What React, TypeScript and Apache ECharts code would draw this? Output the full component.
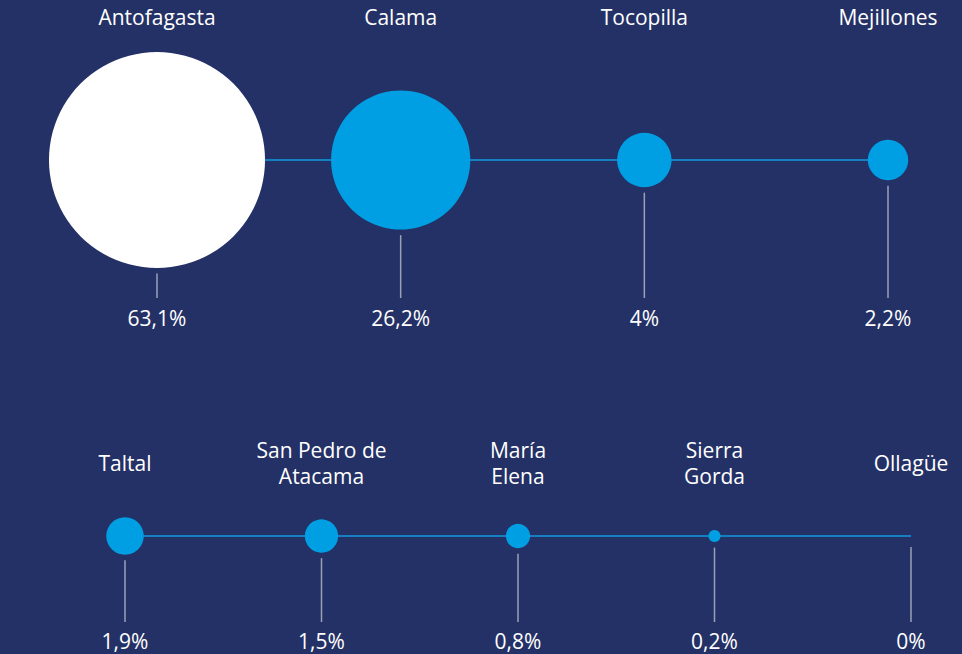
import React, { useEffect, useRef } from "react";
import * as echarts from "echarts";

// Row 1 data
const row1Names = ["Antofagasta", "Calama", "Tocopilla", "Mejillones"];
const row1Values = [63.1, 26.2, 4, 2.2];
// Row 2 data
const row2Names = ["Taltal", "San Pedro de\nAtacama", "María\nElena", "Sierra\nGorda", "Ollagüe"];
const row2Values = [1.9, 1.5, 0.8, 0.2, 0];

const BG = "#243166";
const BLUE = "#009FE3";
const LINE = "#0f9be0";
const DROP = "#9aa0b8";
const FONT = "Open Sans";
const FS = 21;
const K = 27.2; // diameter per sqrt(percent)

const fmt = (v: number) => String(v).replace(".", ",") + "%";

function rowSeries(idx: number, names: string[], values: number[], dropEnd: number, valueOff: number, nameOff: number, highlightFirst: boolean) {
  return [
    {
      type: "line",
      xAxisIndex: idx,
      yAxisIndex: idx,
      data: values.map(() => 0),
      symbol: "none",
      lineStyle: { color: LINE, width: 1.5 },
      z: 1,
      silent: true,
    },
    {
      type: "scatter",
      xAxisIndex: idx,
      yAxisIndex: idx,
      data: values.map((v, i) => ({
        value: [i, 0, v],
        itemStyle: { color: highlightFirst && i === 0 ? "#ffffff" : BLUE, opacity: 1 },
      })),
      symbolSize: (d: number[]) => K * Math.sqrt(d[2]),
      itemStyle: { opacity: 1 },
      z: 3,
      silent: true,
    },
    {
      type: "custom",
      xAxisIndex: idx,
      yAxisIndex: idx,
      data: values.map((v, i) => [i, v]),
      z: 4,
      silent: true,
      renderItem: (params: any, api: any) => {
        const i = params.dataIndex;
        const v = api.value(1);
        const c = api.coord([i, 0]);
        const r = (K / 2) * Math.sqrt(v);
        return {
          type: "group",
          children: [
            {
              type: "line",
              shape: { x1: c[0], y1: c[1] + Math.max(r + 5.5, 11), x2: c[0], y2: c[1] + dropEnd },
              style: { stroke: DROP, lineWidth: 1.5 },
            },
            {
              type: "text",
              x: c[0],
              y: c[1] + valueOff,
              style: {
                text: fmt(v),
                fill: "#ffffff",
                fontFamily: FONT,
                fontSize: FS,
                align: "center",
                verticalAlign: "middle",
              },
            },
            {
              type: "text",
              x: c[0],
              y: c[1] - nameOff,
              style: {
                text: names[i],
                fill: "#ffffff",
                fontFamily: FONT,
                fontSize: FS,
                lineHeight: 26,
                align: "center",
                verticalAlign: "middle",
              },
            },
          ],
        };
      },
    },
  ];
}

export default function App() {
  const ref = useRef<HTMLDivElement>(null);
  useEffect(() => {
    if (!ref.current) return;
    const chart = echarts.init(ref.current, null, { renderer: "svg" });
    chart.setOption({
      animation: false,
      backgroundColor: BG,
      grid: [
        { left: 157, right: 74, top: 60, height: 200 },
        { left: 125, right: 51, top: 436, height: 200 },
      ],
      xAxis: [
        { type: "category", gridIndex: 0, data: row1Names, boundaryGap: false, show: false },
        { type: "category", gridIndex: 1, data: row2Names, boundaryGap: false, show: false },
      ],
      yAxis: [
        { type: "value", gridIndex: 0, min: -1, max: 1, show: false },
        { type: "value", gridIndex: 1, min: -1, max: 1, show: false },
      ],
      series: [
        ...rowSeries(0, row1Names, row1Values, 138, 158, 143, true),
        ...rowSeries(1, row2Names, row2Values, 86, 105, 73, false),
      ],
    });
    return () => chart.dispose();
  }, []);
  return (
    <div
      ref={ref}
      style={{ position: "fixed", left: 0, top: 0, width: 962, height: 654, background: BG }}
    />
  );
}
